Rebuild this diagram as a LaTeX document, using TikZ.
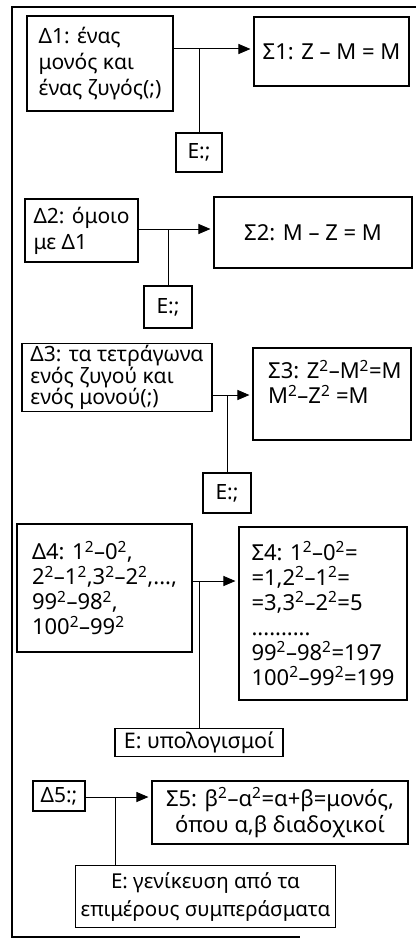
\documentclass[tikz,border=0pt]{standalone}
\usepackage{fontspec}
\setmainfont{Noto Sans}
\usetikzlibrary{arrows.meta}
\newcommand{\sq}{\textsuperscript{2}}
\begin{document}
\begin{tikzpicture}[x=1pt,y=-1pt,
 box/.style={draw, line width=1.1pt, inner xsep=5pt, inner ysep=2pt},
 lbox/.style={box, align=left},
 cbox/.style={box, align=center},
 fa/.style={font=\fontsize{21}{26}\selectfont},
 fl/.style={font=\fontsize{22}{26}\selectfont},
 fb/.style={font=\fontsize{21}{21}\selectfont},
 fc/.style={font=\fontsize{22}{25}\selectfont},
 fd/.style={font=\fontsize{22}{25}\selectfont},
 txt/.style={inner sep=0pt, align=left},
 arr/.style={line width=1pt, -{Triangle[length=12pt,width=10pt]}, shorten >=3pt},
 link/.style={line width=1pt}]
\useasboundingbox (0,0) rectangle (416,942);
\fill[white] (0,0) rectangle (416,942);
\draw[line width=1.2pt] (416,7) -- (12,7) -- (12,937) -- (300,937);

% row 1
\node[lbox, fa, minimum width=146pt, minimum height=95pt] (D1) at (100,63.5) {Δ1: ένας\\μονός και\\ένας ζυγός(;)};
\node[cbox, fl, minimum width=155pt, minimum height=69pt] (S1) at (331.5,51.5) {Σ1: Z – M = M};
\node[cbox, fa, minimum width=46pt, minimum height=39pt] (E1) at (199,152.5) {Ε:;};
\coordinate (a1) at (0,49);
\draw[arr] (D1.east |- a1) -- (S1.west |- a1);
\draw[link] (E1.north) -- (E1.north |- a1);

% row 2
\node[lbox, fa, minimum width=113pt, minimum height=63pt] (D2) at (81.5,230.5) {Δ2: όμοιο\\με Δ1};
\node[cbox, fl, minimum width=198pt, minimum height=71pt] (S2) at (313,232.5) {Σ2: M – Z = M};
\node[cbox, fa, minimum width=48pt, minimum height=42pt] (E2) at (168,307) {Ε:;};
\coordinate (a2) at (0,229);
\draw[arr] (D2.east |- a2) -- (S2.west |- a2);
\draw[link] (E2.north) -- (E2.north |- a2);

% row 3
\node[lbox, fb, minimum width=190pt, minimum height=63pt] (D3) at (117,377.5) {Δ3: τα τετράγωνα\\ενός ζυγού και\\ενός μονού(;)};
\node[box, minimum width=158pt, minimum height=92pt] (S3) at (332,394) {};
\node[txt, fc, anchor=west] (S3t) at (268,382) {Σ3: Z\sq–M\sq=M\\M\sq–Z\sq\ =M};
\node[cbox, fa, minimum width=48pt, minimum height=40pt] (E3) at (227,493) {Ε:;};
\coordinate (a3) at (0,395);
\draw[arr] (D3.east |- a3) -- (S3.west |- a3);
\draw[link] (E3.north) -- (E3.north |- a3);

% row 4
\node[lbox, fc, minimum width=175pt, minimum height=128pt] (D4) at (104.5,588) {Δ4: 1\sq–0\sq,\\2\sq–1\sq,3\sq–2\sq,...,\\99\sq–98\sq,\\100\sq–99\sq};
\node[lbox, fd, minimum width=168pt, minimum height=173pt] (S4) at (323,613.5) {Σ4: 1\sq–0\sq=\\=1,2\sq–1\sq=\\=3,3\sq–2\sq=5\\..........\\99\sq–98\sq=197\\100\sq–99\sq=199};
\node[cbox, font=\fontsize{21.5}{26}\selectfont, minimum width=168pt, minimum height=28pt] (E4) at (199,742.5) {Ε: υπολογισμοί};
\coordinate (a4) at (0,581);
\draw[arr] (D4.east |- a4) -- (S4.west |- a4);
\draw[link] (E4.north) -- (E4.north |- a4);

% row 5
\node[cbox, fa, minimum width=52pt, minimum height=30pt] (D5) at (59,796) {Δ5:;};
\node[cbox, font=\fontsize{22}{26}\selectfont, minimum width=256pt, minimum height=63pt] (S5) at (280,812.5) {Σ5: β\sq–α\sq=α+β=μονός,\\όπου α,β διαδοχικοί};
\node[cbox, font=\fontsize{20.5}{28}\selectfont, minimum width=255pt, minimum height=62pt] (E5) at (205.5,896.5) {Ε: γενίκευση από τα\\επιμέρους συμπεράσματα};
\coordinate (a5) at (0,797);
\coordinate (j5) at (115,797);
\draw[arr] (D5.east |- a5) -- (S5.west |- a5);
\draw[link] (j5) -- (j5 |- E5.north);
\end{tikzpicture}
\end{document}
